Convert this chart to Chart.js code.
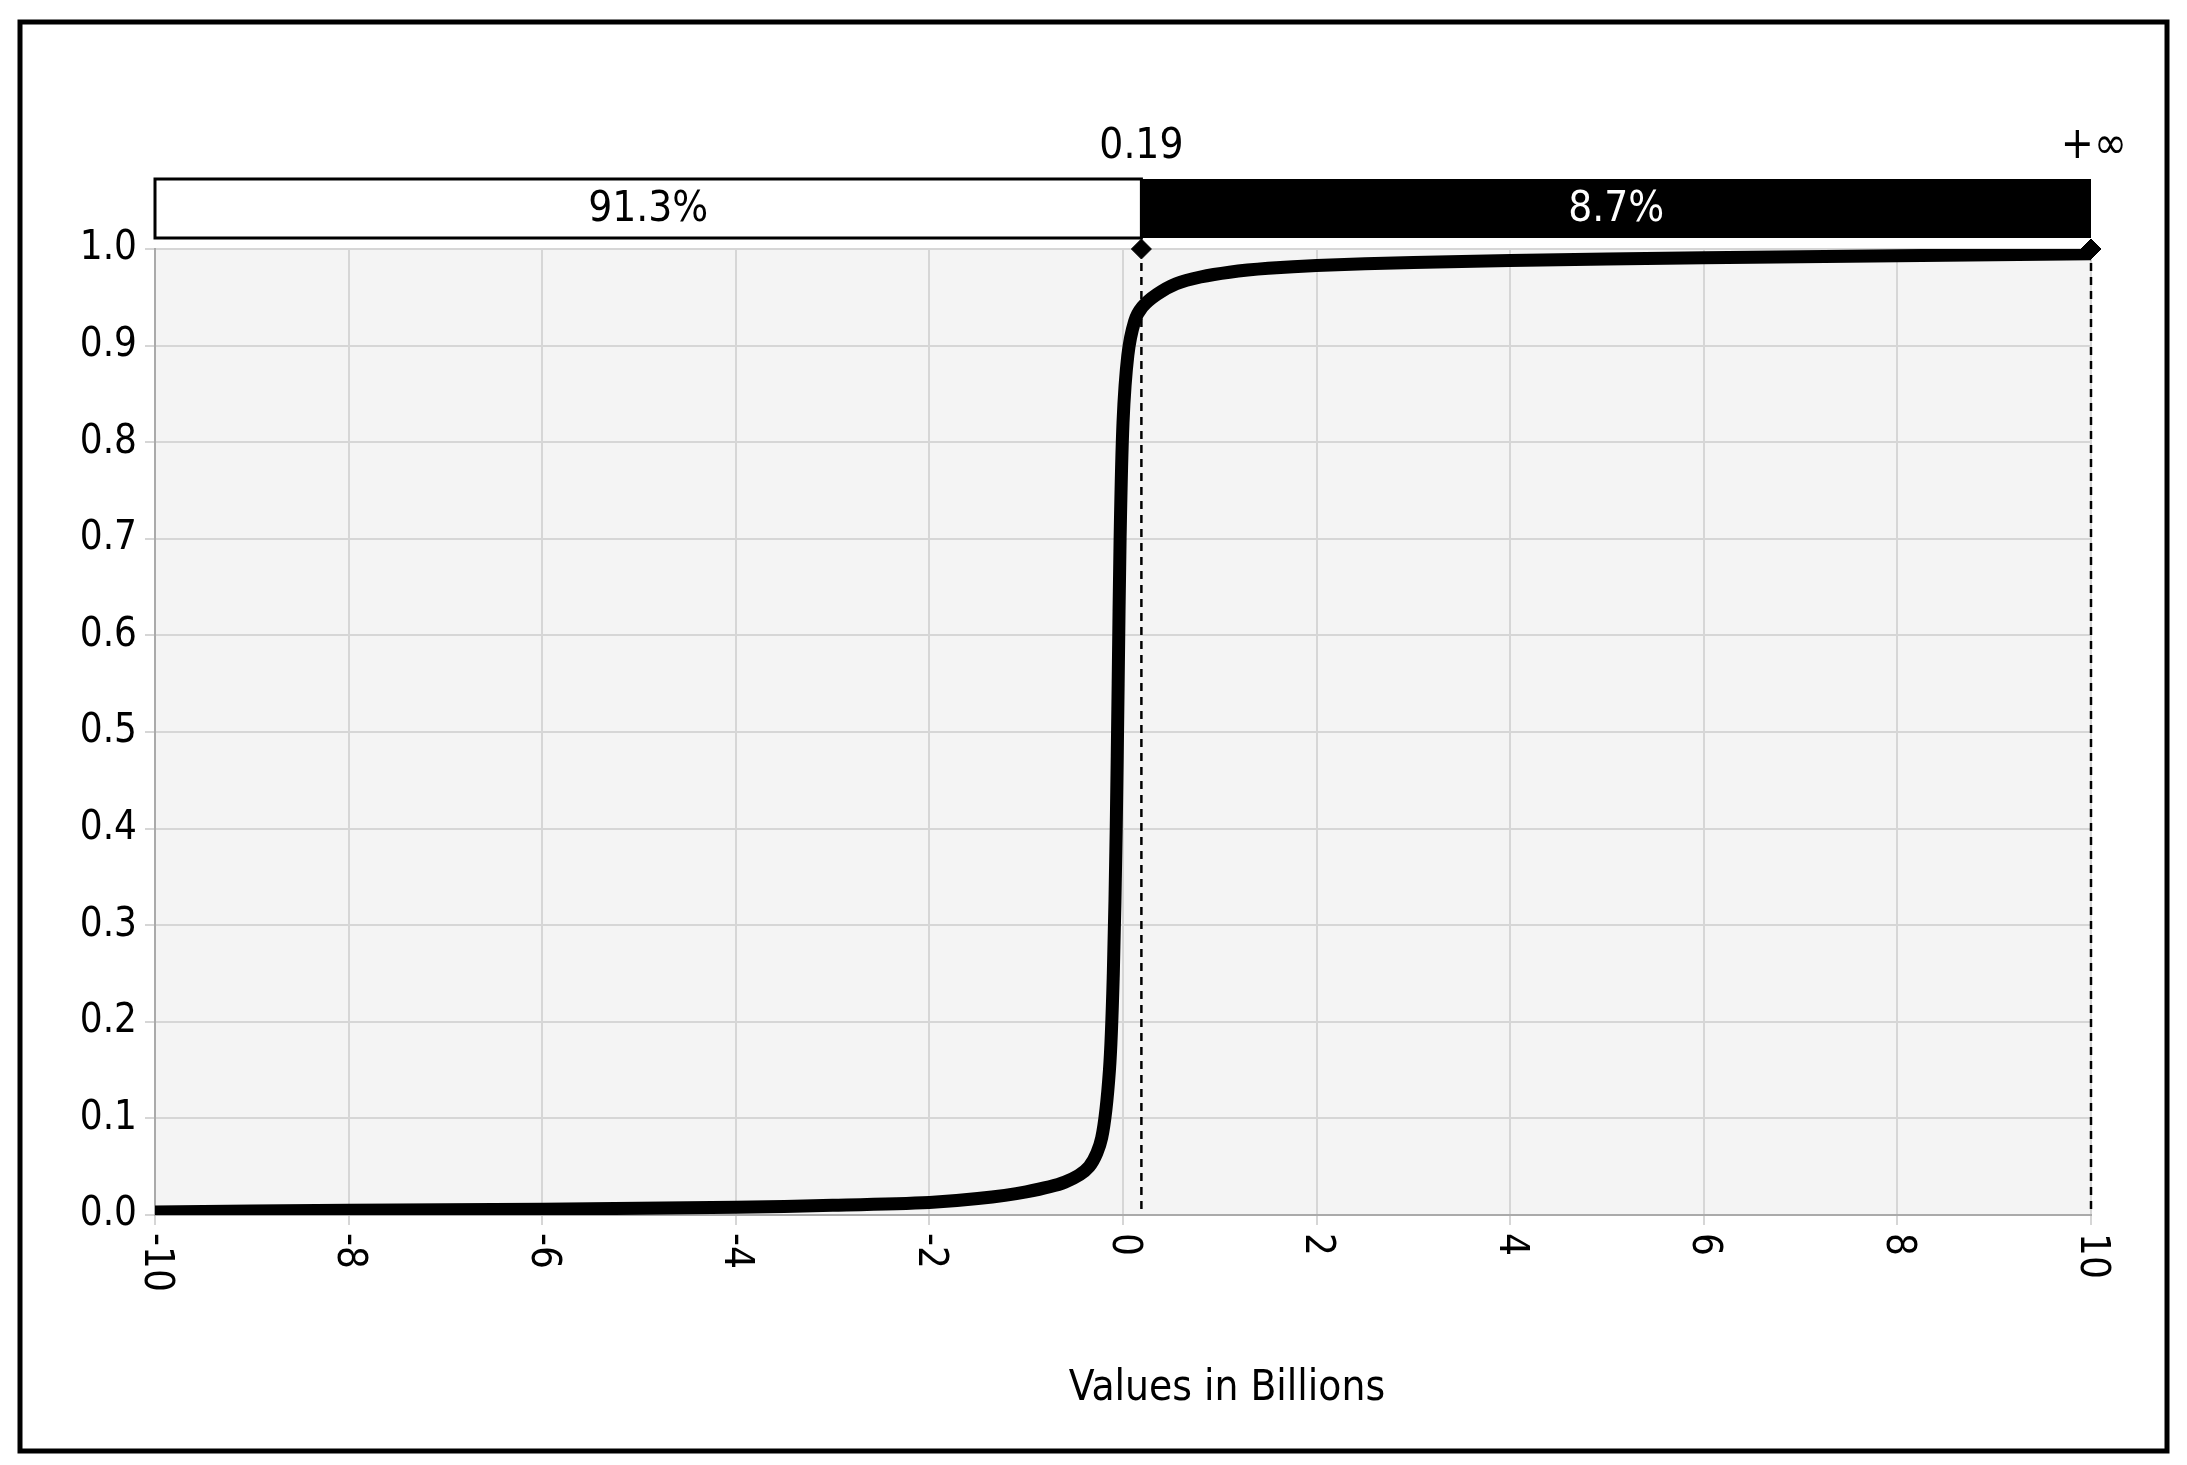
<!DOCTYPE html>
<html><head><meta charset="utf-8">
<script src="https://cdn.jsdelivr.net/npm/chart.js@4"></script>
<style>html,body{margin:0;background:#fff}#c{display:block}</style>
</head><body>
<canvas id="c" width="2187" height="1465"></canvas>
<script>
// CDF curve
const curveX = [-10,-8,-6,-5,-4,-3,-2,-1.5,-1,-0.6,-0.35,-0.22,-0.14,-0.1,-0.07,-0.05,-0.03,0,0.05,0.12,0.2,0.35,0.55,0.8,1.1,1.5,2,3,4,6,8,10];
const curveY = [0.003,0.005,0.006,0.007,0.008,0.01,0.013,0.017,0.024,0.034,0.05,0.08,0.15,0.25,0.4,0.55,0.7,0.82,0.89,0.925,0.94,0.953,0.964,0.971,0.976,0.98,0.983,0.986,0.988,0.991,0.993,0.995];
const xTicks = [-10,-8,-6,-4,-2,0,2,4,6,8,10];
const cutLeft = 0.19, cutRight = 10;
const bandLabels = ['91.3%', '8.7%'];
const edgeLabels = ['0.19', '+\u221e'];
const FONT = '"DejaVu Sans Condensed","DejaVu Sans",sans-serif';

const deco = {
  id: 'deco',
  beforeDraw(ch) {
    const {ctx, chartArea: a} = ch;
    ctx.save();
    ctx.fillStyle = '#fff'; ctx.fillRect(0, 0, ch.width, ch.height);
    ctx.fillStyle = '#f4f4f4'; ctx.fillRect(a.left, a.top, a.right - a.left, a.bottom - a.top);
    ctx.restore();
  },
  afterDraw(ch) {
    const {ctx, chartArea: a, scales: {x, y}} = ch;
    ctx.save();
    // outer frame
    ctx.strokeStyle = '#000'; ctx.lineWidth = 5;
    ctx.strokeRect(20, 22, 2147, 1429);
    // dashed verticals
    ctx.setLineDash([8, 6]); ctx.lineWidth = 2.5;
    [cutLeft, cutRight].forEach(v => {
      const px = x.getPixelForValue(v);
      ctx.beginPath(); ctx.moveTo(px, y.getPixelForValue(1)); ctx.lineTo(px, a.bottom); ctx.stroke();
    });
    ctx.setLineDash([]);
    // band
    const x0 = x.getPixelForValue(-10), x1 = x.getPixelForValue(cutLeft), x2 = x.getPixelForValue(cutRight);
    const bt = 179, bb = 238;
    ctx.fillStyle = '#fff'; ctx.fillRect(x0, bt, x1 - x0, bb - bt);
    ctx.lineWidth = 3; ctx.strokeRect(x0, bt, x1 - x0, bb - bt);
    ctx.fillStyle = '#000'; ctx.fillRect(x1, bt, x2 - x1, bb - bt);
    ctx.font = '42px ' + FONT; ctx.textAlign = 'center'; ctx.textBaseline = 'middle';
    ctx.fillText(bandLabels[0], (x0 + x1) / 2, (bt + bb) / 2 + 2);
    ctx.fillStyle = '#fff'; ctx.fillText(bandLabels[1], (x1 + x2) / 2, (bt + bb) / 2 + 2);
    ctx.fillStyle = '#000'; ctx.textBaseline = 'alphabetic';
    ctx.fillText(edgeLabels[0], x1, 158);
    ctx.textAlign = 'right'; ctx.font = '44px ' + FONT; ctx.fillText(edgeLabels[1], x2 + 36, 158);
    // x tick labels, rotated clockwise
    ctx.font = '40px ' + FONT;
    xTicks.forEach(v => {
      ctx.save();
      ctx.translate(x.getPixelForValue(v), a.bottom + 18);
      ctx.rotate(Math.PI / 2);
      ctx.textAlign = 'left'; ctx.textBaseline = 'middle';
      ctx.fillText(String(v), 0, 0);
      ctx.restore();
    });
    // axis title
    ctx.font = '42px ' + FONT; ctx.textAlign = 'center';
    ctx.fillText('Values in Billions', 1227, 1400);
    ctx.restore();
  }
};

new Chart(document.getElementById('c'), {
  type: 'scatter',
  data: {
    datasets: [
      {
        data: curveX.map((v, i) => ({x: v, y: curveY[i]})),
        showLine: true, borderColor: '#000', borderWidth: 13, pointRadius: 0, tension: 0.3
      },
      {
        data: [{x: cutLeft, y: 1}, {x: cutRight, y: 1}],
        pointStyle: 'rectRot', pointRadius: 10, backgroundColor: '#000', borderColor: '#000',
        showLine: false, clip: false
      }
    ]
  },
  options: {
    responsive: false, animation: false, devicePixelRatio: 1,
    layout: {padding: {left: 0, top: 249, right: 96, bottom: 250}},
    plugins: {legend: {display: false}, tooltip: {enabled: false}},
    scales: {
      x: {
        type: 'linear', min: -10, max: 10,
        ticks: {stepSize: 2, display: false},
        grid: {color: '#d6d6d6', lineWidth: 2, tickLength: 10, drawOnChartArea: true},
        border: {color: '#aaa', width: 2},
        afterFit(s) { s.height = 0; }
      },
      y: {
        min: 0, max: 1,
        ticks: {stepSize: 0.1, color: '#000', padding: 8, font: {family: FONT, size: 40},
          callback: v => v.toFixed(1)},
        grid: {color: '#d6d6d6', lineWidth: 2, tickLength: 10},
        border: {color: '#aaa', width: 2},
        afterFit(s) { s.width = 155; }
      }
    }
  },
  plugins: [deco]
});
</script>
</body></html>
